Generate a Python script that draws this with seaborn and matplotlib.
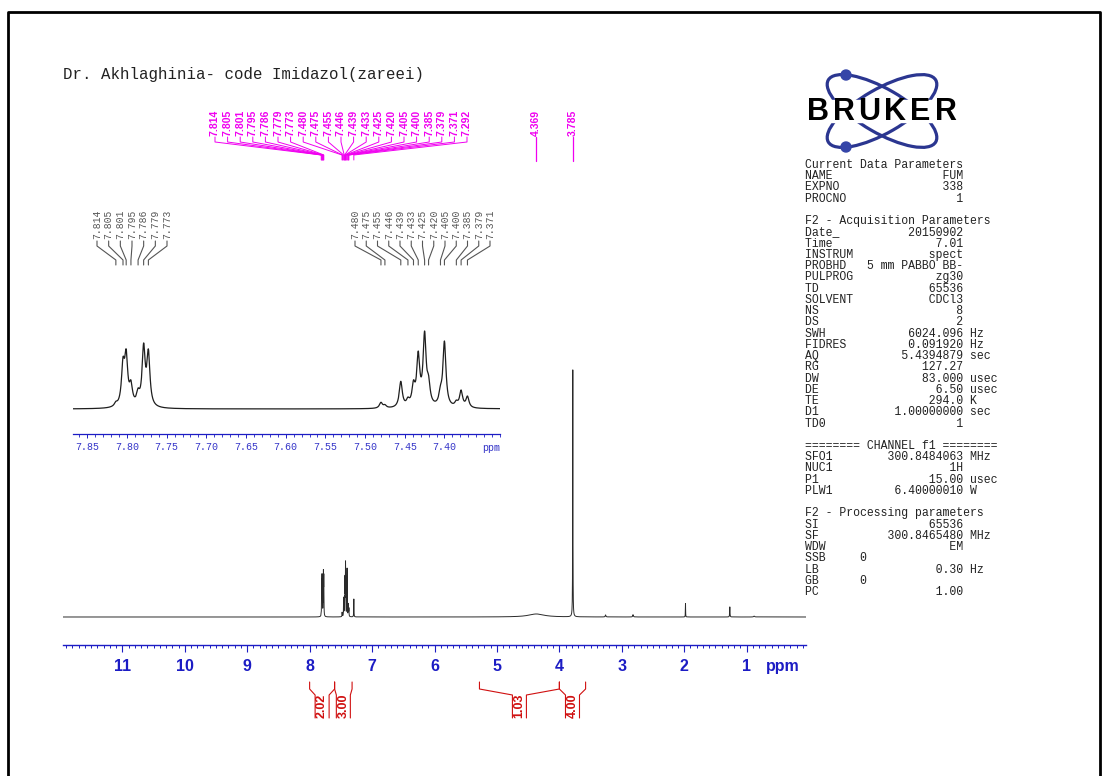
import numpy as np
import matplotlib
matplotlib.use("Agg")
import matplotlib.pyplot as plt
import seaborn as sns
from matplotlib.patches import Ellipse, Circle, Rectangle
from matplotlib.ticker import MultipleLocator, FixedLocator
from matplotlib.transforms import blended_transform_factory

# ---------------- data ----------------
title = "Dr. Akhlaghinia- code Imidazol(zareei)"

# sharp peaks (ppm, apparent height in arbitrary units)
peak_ppm = [7.814, 7.805, 7.801, 7.795, 7.786, 7.779, 7.773,
            7.480, 7.475, 7.455, 7.446, 7.439, 7.433, 7.425, 7.420,
            7.405, 7.400, 7.385, 7.379, 7.371, 7.292, 3.785]
peak_height = [7.7, 52, 60, 29, 21, 66, 60,
               6.7, 4.5, 27.7, 12, 29, 58, 78, 34,
               24, 68, 9, 19, 13, 25, 343]
peak_halfwidth = 0.0023

# other small / broad signals
minor_ppm = [4.369, 3.26, 2.82, 1.98, 1.27, 0.88]
minor_height = [4.2, 2.8, 3.2, 18.6, 14.0, 1.2]
minor_halfwidth = [0.15, 0.006, 0.006, 0.002, 0.003, 0.01]

# peak picking labels
top_labels = ["7.814", "7.805", "7.801", "7.795", "7.786", "7.779", "7.773",
              "7.480", "7.475", "7.455", "7.446", "7.439", "7.433", "7.425",
              "7.420", "7.405", "7.400", "7.385", "7.379", "7.371", "7.292"]
single_labels = ["4.369", "3.785"]
inset_labels_1 = ["7.814", "7.805", "7.801", "7.795", "7.786", "7.779", "7.773"]
inset_labels_2 = ["7.480", "7.475", "7.455", "7.446", "7.439", "7.433", "7.425",
                  "7.420", "7.405", "7.400", "7.385", "7.379", "7.371"]

# integrals
int_start = [8.00, 7.60, 5.28, 4.00]
int_end = [7.60, 7.32, 4.00, 3.58]
int_value = ["2.02", "3.00", "1.03", "4.00"]

# axes ticks
main_ticks = [11, 10, 9, 8, 7, 6, 5, 4, 3, 2, 1]
main_xlim = (11.95, 0.05)
inset_ticks = [7.85, 7.80, 7.75, 7.70, 7.65, 7.60, 7.55, 7.50, 7.45, 7.40]
inset_xlim = (7.868, 7.330)

# parameter block
param_label = ["Current Data Parameters", "NAME", "EXPNO", "PROCNO", "",
               "F2 - Acquisition Parameters", "Date_", "Time", "INSTRUM", "PROBHD",
               "PULPROG", "TD", "SOLVENT", "NS", "DS", "SWH", "FIDRES", "AQ", "RG",
               "DW", "DE", "TE", "D1", "TD0", "",
               "======== CHANNEL f1 ========", "SFO1", "NUC1", "P1", "PLW1", "",
               "F2 - Processing parameters", "SI", "SF", "WDW", "SSB", "LB", "GB", "PC"]
param_value = ["", "FUM", "338", "1", "",
               "", "20150902", "7.01", "spect", "5 mm PABBO BB-",
               "zg30", "65536", "CDCl3", "8", "2", "6024.096", "0.091920", "5.4394879", "127.27",
               "83.000", "6.50", "294.0", "1.00000000", "1", "",
               "", "300.8484063", "1H", "15.00", "6.40000010", "",
               "", "65536", "300.8465480", "EM", "0", "0.30", "0", "1.00"]
param_unit = ["", "", "", "", "",
              "", "", "", "", "",
              "", "", "", "", "", "Hz", "Hz", "sec", "",
              "usec", "usec", "K", "sec", "", "",
              "", "MHz", "", "usec", "W", "",
              "", "", "MHz", "", "", "Hz", "", ""]
left_value_names = ["SSB", "GB"]

# ---------------- styles ----------------
sns.set_theme(style="white")
plt.rcParams["font.family"] = ["Liberation Sans", "DejaVu Sans"]
plt.rcParams["axes.grid"] = False

BLUE = "#1c1cc4"
MAG = "#f000f0"
RED = "#d01010"
W, H = 1109, 776


def box(l, t, r, b):
    return [l / W, 1 - b / H, (r - l) / W, (b - t) / H]


fig = plt.figure(figsize=(W / 100, H / 100), dpi=100)
fig.patch.set_facecolor("white")

# ---------------- spectrum model ----------------
pp = np.array(peak_ppm)
hh = np.array(peak_height, dtype=float)
A = 1.0 / (1.0 + ((pp[:, None] - pp[None, :]) / peak_halfwidth) ** 2)
amp = np.clip(np.linalg.solve(A, hh), 0, None)


def spectrum(x):
    y = np.zeros_like(x)
    for p, a in zip(pp, amp):
        y += a / (1.0 + ((x - p) / peak_halfwidth) ** 2)
    for p, a, w in zip(minor_ppm, minor_height, minor_halfwidth):
        y += a / (1.0 + ((x - p) / w) ** 2)
    return y


# ---------------- main axes ----------------
ax = fig.add_axes(box(63, 360, 806, 645))
ax.patch.set_alpha(0)
xs = np.unique(np.concatenate([np.linspace(main_xlim[1], main_xlim[0], 90000), pp]))
sns.lineplot(x=xs, y=spectrum(xs), ax=ax, color="#2a2a2a", linewidth=0.7,
             estimator=None, sort=False)
ax.set_xlim(*main_xlim)
ax.set_ylim(-38.9, 357)
for s in ["left", "right", "top"]:
    ax.spines[s].set_visible(False)
ax.spines["bottom"].set_color(BLUE)
ax.spines["bottom"].set_linewidth(1.0)
ax.set_yticks([])
ax.xaxis.set_major_locator(FixedLocator(main_ticks))
ax.xaxis.set_minor_locator(MultipleLocator(0.1))
ax.set_xticklabels([str(t) for t in main_ticks], fontweight="bold", color=BLUE,
                   fontsize=11.5, family=["Liberation Sans Narrow", "Liberation Sans"])
ax.tick_params(axis="x", which="major", direction="out", length=5, width=0.8,
               color=BLUE, pad=5, bottom=True)
ax.tick_params(axis="x", which="minor", direction="out", length=2.5, width=0.7,
               color=BLUE, bottom=True)
ax.set_xlabel("")
ax.set_ylabel("")
ax.text(0.42, -0.077, "ppm", transform=blended_transform_factory(ax.transData, ax.transAxes),
        ha="center", va="center", fontweight="bold", color=BLUE, fontsize=11.5,
        family=["Liberation Sans Narrow", "Liberation Sans"])

# ---------------- inset axes ----------------
ai = fig.add_axes(box(73, 320, 500, 434))
ai.patch.set_alpha(0)
xi = np.unique(np.concatenate([np.linspace(inset_xlim[1], inset_xlim[0], 6000), pp[pp > 7.33]]))
sns.lineplot(x=xi, y=spectrum(xi), ax=ai, color="#1e1e1e", linewidth=0.9,
             estimator=None, sort=False)
ai.set_xlim(*inset_xlim)
ai.set_ylim(-25, 89)
for s in ["left", "right", "top"]:
    ai.spines[s].set_visible(False)
ai.spines["bottom"].set_color(BLUE)
ai.spines["bottom"].set_linewidth(0.9)
ai.set_yticks([])
ai.xaxis.set_major_locator(FixedLocator(inset_ticks))
ai.xaxis.set_minor_locator(MultipleLocator(0.01))
ai.set_xticklabels([f"{t:.2f}" for t in inset_ticks], color="#3434c8", fontsize=7.2,
                   family=["Liberation Mono", "DejaVu Sans Mono"])
ai.tick_params(axis="x", which="major", direction="out", length=3, width=0.7,
               color=BLUE, pad=3, bottom=True)
ai.tick_params(axis="x", which="minor", direction="out", length=1.8, width=0.6,
               color=BLUE, bottom=True)
ai.set_xlabel("")
ai.set_ylabel("")
ai.text(7.3406, -0.12, "ppm", transform=blended_transform_factory(ai.transData, ai.transAxes),
        ha="center", va="center", color="#3434c8", fontsize=7.2,
        family=["Liberation Mono", "DejaVu Sans Mono"])

# ---------------- overlay (pixel coordinates) ----------------
ov = fig.add_axes([0, 0, 1, 1], zorder=5)
ov.set_xlim(0, W)
ov.set_ylim(H, 0)
ov.axis("off")


def to_px(axis, ppm):
    return ov.transData.inverted().transform(axis.transData.transform((ppm, 0)))[0]


# border
ov.plot([8, 8, 1100, 1100], [776, 12, 12, 776], color="black", lw=2, clip_on=False)

# title
ov.text(63, 75, title, ha="left", va="center", fontsize=11.3, color="#222222",
        family=["Liberation Mono", "DejaVu Sans Mono"])

# magenta peak labels
mag_x = np.linspace(215, 467, len(top_labels))
for lx, lab in zip(mag_x, top_labels):
    px = to_px(ax, float(lab))
    ov.text(lx, 136, lab, rotation=90, ha="center", va="bottom", color=MAG,
            fontsize=7.5, fontweight="bold")
    ov.plot([lx, lx, px, px], [137, 142, 155, 160], color=MAG, lw=0.7)
for lab in single_labels:
    px = to_px(ax, float(lab))
    ov.text(px, 136, lab, rotation=90, ha="center", va="bottom", color=MAG,
            fontsize=7.5, fontweight="bold")
    ov.plot([px, px], [137, 161], color=MAG, lw=0.9)

# inset peak labels
for labels, x0, x1 in [(inset_labels_1, 97, 167), (inset_labels_2, 355, 490)]:
    lxs = np.linspace(x0, x1, len(labels))
    for lx, lab in zip(lxs, labels):
        px = to_px(ai, float(lab))
        ov.text(lx, 239, lab, rotation=90, ha="center", va="bottom", color="#555555",
                fontsize=7, family=["Liberation Mono", "DejaVu Sans Mono"])
        ov.plot([lx, lx, px, px], [241, 246, 260, 265], color="#555555", lw=0.8)

# integrals
for s, e, v in zip(int_start, int_end, int_value):
    xs_ = to_px(ax, s)
    xe_ = to_px(ax, e)
    xm = to_px(ax, (s + e) / 2)
    ov.plot([xs_, xs_, xm - 7, xm - 7], [682, 689, 695, 718], color=RED, lw=0.8)
    ov.plot([xe_, xe_, xm + 7, xm + 7], [682, 689, 695, 718], color=RED, lw=0.8)
    ov.text(xm, 706, v, rotation=90, ha="center", va="center", color=RED,
            fontsize=9, fontweight="bold")

# Bruker logo
for ang in (30, -30):
    ov.add_patch(Ellipse((882, 111), 124, 44, angle=ang, fill=False,
                         ec="#2b3690", lw=2.3))
ov.add_patch(Circle((846, 75), 5, color="#3545a8"))
ov.add_patch(Circle((846, 147), 5, color="#3545a8"))
ov.add_patch(Rectangle((804, 100), 156, 22, color="white", zorder=3))
for i, ch in enumerate("BRUKER"):
    ov.text(818 + i * 25.6, 111.5, ch, ha="center", va="center", fontsize=22,
            fontweight="bold", color="black", zorder=4)

# parameter block
for i, (lab, val, unit) in enumerate(zip(param_label, param_value, param_unit)):
    if lab in left_value_names:
        line = lab.ljust(8) + val
    elif val:
        line = lab.ljust(8) + val.rjust(15) + ((" " + unit) if unit else "")
    else:
        line = lab
    ov.text(805, 165 + i * 11.24, line, ha="left", va="center", fontsize=8.3,
            color="#222222", family=["Liberation Mono", "DejaVu Sans Mono"])

fig.savefig("out.png", dpi=100, facecolor="white")
